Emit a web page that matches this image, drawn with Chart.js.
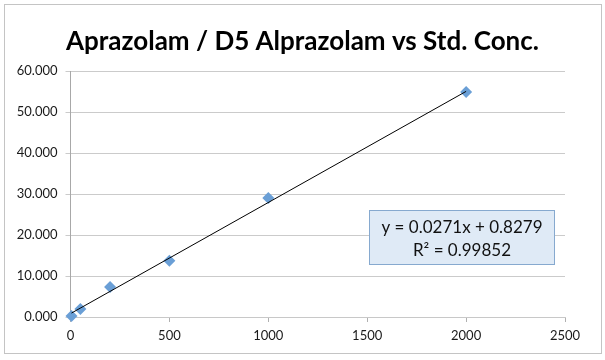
<!DOCTYPE html>
<html>
<head>
<meta charset="utf-8">
<script src="https://cdn.jsdelivr.net/npm/chart.js@4"></script>
<style>
  html, body { margin: 0; padding: 0; background: #fff; }
  #wrap { width: 605px; height: 360px; position: relative; }
</style>
</head>
<body>
<div id="wrap"><canvas id="c" width="605" height="360"></canvas></div>
<script>
// Data
const stdConc = [5, 50, 200, 500, 1000, 2000];
const ratio = [0.25, 1.95, 7.3, 13.7, 29.0, 54.9];
// Trendline end points (from the displayed fit y = 0.0271x + 0.8279)
const trendX = [5, 2000];
const trendY = [0.96, 55.03];
const xTicks = [0, 500, 1000, 1500, 2000, 2500];
const yTicks = [0, 10, 20, 30, 40, 50, 60];
const titleText = 'Aprazolam / D5 Alprazolam vs Std. Conc.';
const eqLines = ['y = 0.0271x + 0.8279', 'R² = 0.99852'];

const FONT = 'Lato, "Open Sans", sans-serif';

const frame = {
  id: 'frame',
  beforeDraw(chart) {
    const ctx = chart.ctx;
    ctx.save();
    ctx.fillStyle = '#ffffff';
    ctx.fillRect(0, 0, chart.width, chart.height);
    ctx.strokeStyle = '#c4c4c4';
    ctx.lineWidth = 1;
    ctx.strokeRect(4.5, 4.5, chart.width - 8, chart.height - 11);
    ctx.restore();
  },
  afterDraw(chart) {
    const ctx = chart.ctx;
    const a = chart.chartArea;
    ctx.save();
    // title
    ctx.fillStyle = '#000';
    ctx.font = 'bold 26px ' + FONT;
    ctx.textAlign = 'center';
    ctx.textBaseline = 'middle';
    ctx.fillText(titleText, chart.width / 2, 42);
    // equation box
    const bx = Math.round(a.left + 298) + 0.5, by = Math.round(a.top + 139) + 0.5;
    const bw = 185, bh = 54;
    ctx.fillStyle = '#dfeaf6';
    ctx.fillRect(bx, by, bw, bh);
    ctx.strokeStyle = '#86a9cf';
    ctx.lineWidth = 1;
    ctx.strokeRect(bx, by, bw, bh);
    ctx.fillStyle = '#111';
    ctx.font = '17px ' + FONT;
    ctx.fillText(eqLines[0], bx + bw / 2, by + 17);
    ctx.fillText(eqLines[1], bx + bw / 2, by + 40);
    ctx.restore();
  }
};

new Chart(document.getElementById('c'), {
  type: 'scatter',
  data: {
    datasets: [
      {
        label: 'Linear',
        data: trendX.map((x, i) => ({ x, y: trendY[i] })),
        showLine: true,
        borderColor: '#000',
        borderWidth: 1,
        pointRadius: 0,
        clip: false,
        order: 0
      },
      {
        label: 'Ratio',
        data: stdConc.map((x, i) => ({ x, y: ratio[i] })),
        pointStyle: 'rectRot',
        pointRadius: 6,
        backgroundColor: '#6a9fd6',
        borderColor: '#6a9fd6',
        borderWidth: 0,
        clip: false,
        order: 1
      }
    ]
  },
  options: {
    responsive: false,
    animation: false,
    devicePixelRatio: 1,
    layout: { padding: { left: 0, right: 40, top: 71, bottom: 0 } },
    plugins: {
      legend: { display: false },
      tooltip: { enabled: false },
      title: { display: false }
    },
    scales: {
      x: {
        type: 'linear',
        min: 0, max: 2500,
        afterBuildTicks(scale) { scale.ticks = xTicks.map(v => ({ value: v })); },
        afterFit(scale) { scale.height = 43; },
        grid: { display: true, drawOnChartArea: false, drawTicks: true, tickLength: 5, color: '#b0b0b0' },
        border: { display: true, color: '#c8c8c8' },
        ticks: { color: '#1a1a1a', font: { family: FONT, size: 13 }, padding: 6, maxRotation: 0,
          callback: v => String(v) }
      },
      y: {
        type: 'linear',
        min: 0, max: 60,
        afterBuildTicks(scale) { scale.ticks = yTicks.map(v => ({ value: v })); },
        afterFit(scale) { scale.width = 70.5; },
        grid: { display: true, drawOnChartArea: true, drawTicks: true, tickLength: 5, color: '#cbcbcb' },
        border: { display: true, color: '#a8a8a8' },
        ticks: { color: '#1a1a1a', font: { family: FONT, size: 13 }, padding: 8,
          callback: v => v.toFixed(3) }
      }
    }
  },
  plugins: [frame]
});
</script>
</body>
</html>
